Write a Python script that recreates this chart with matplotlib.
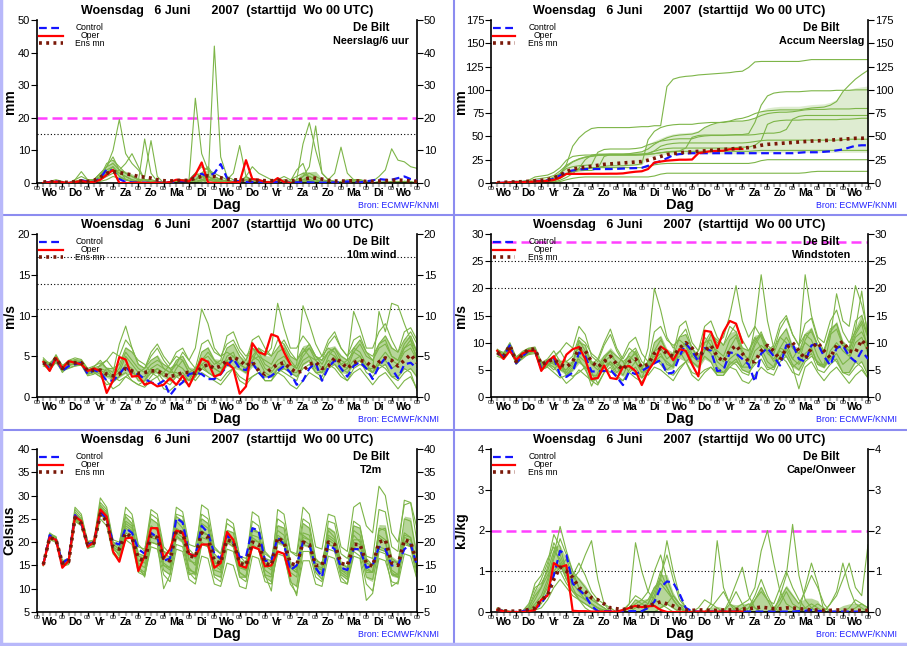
import numpy as np
import matplotlib
matplotlib.use("Agg")
import matplotlib.pyplot as plt
from matplotlib.transforms import blended_transform_factory

plt.rcParams['font.family'] = ['Liberation Sans', 'DejaVu Sans']


def rij(s):
    # string met waarden (| scheidt de dagen) -> array
    return np.array([float(v) for v in s.replace('|', ' ').split()])


# tijdstappen: elke 6 uur, van +6 tot +360 uur
uren = np.arange(6, 361, 6)
dagen = ['Wo', 'Do', 'Vr', 'Za', 'Zo', 'Ma', 'Di', 'Wo', 'Do', 'Vr', 'Za', 'Zo', 'Ma', 'Di', 'Wo']

# ---------------- Neerslag per 6 uur (mm) ----------------
neerslag_leden = [
    "0 0 0 0 | 0 0 0.5 0.5 | 1 3 5 10 | 19.5 9 6 4 | 1 0 0 0 | 0 0 0.5 0.5 | 0 1 0 42 | 8 2 1 0.5 | 1 0.5 0.5 0.5 | 0.5 0.5 1 0.5 | 4 6 0.5 0 | 0 0 0 0 | 0 1 1 0 | 0 0 0 0 | 0 0 0 0",
    "0 0.5 0.5 0 | 0 1 2 1 | 1 2 5 6 | 4 3 2 1 | 1 0.5 0.5 0 | 0 0.5 1 1 | 3 5 4 3 | 2 1 0.5 0.5 | 2 5 3 2 | 1 1 2 1 | 2 3 2 1 | 0.5 0.5 0 0 | 0 1 1 0.5 | 0.5 2 4 10.5 | 7 6.5 5 4.5",
    "0 0 0.5 0 | 0 0.5 1 0.5 | 1 3 4 5 | 2 1 0.5 0.5 | 13.5 3 0.5 0 | 0 0 0.5 1 | 3 2 2 1 | 1 0.5 0 0 | 2 1 0.5 0 | 0 0.5 0.5 0 | 1 12 18.5 10 | 3 1 0.5 0 | 0 0.5 0.5 0 | 0 0 0.5 0 | 0 0.5 0 0",
    "0 0 0 0 | 0 0 0.5 0.5 | 0.5 1 3 4 | 3 2 1 0.5 | 1 1 0.5 0 | 0 0.5 0.5 1 | 26 9 4 2 | 1 0.5 0 0 | 1 0.5 0.5 0 | 0 1 0.5 0 | 1 2 3 2 | 1 0.5 0 0.5 | 1 1 0.5 0 | 0 0.5 0 0 | 0 0.5 0 0",
    "0 0 0 0 | 0 0 0.5 0 | 0.5 2 3 4 | 2 1 0.5 0 | 2 13 2 0 | 0 0 0 0.5 | 1 2 2 1 | 0.5 0 0 0 | 0 0 0 0 | 0 0 0.5 0.5 | 0 2 5 17.5 | 3 1 0.5 0 | 0 0.5 0 0 | 0 0 0 0.5 | 0 0.5 0.5 0",
    "0 0.5 1 0.5 | 0 1 3.5 1 | 1 3 5 8 | 4 1 0.5 0 | 0 0 0 0 | 0 0 0 0 | 0.5 1 1 0.5 | 0.5 1 3 11.5 | 2 0.5 0 0 | 0 0 0 0 | 0 0.5 1 0.5 | 0 1 3 11 | 3 1 0 0 | 0 0 0 0 | 0 0 0 0",
    "0 0 0 0 | 0 0.5 1 0.5 | 0.5 2 6 7 | 5 3 2 1 | 1 0.5 0 0 | 0 0 0 0.5 | 1 3 5 2 | 1 0.5 0 0 | 0 0 0 0 | 0 0 0 0 | 0.5 1 1 0.5 | 0 0 0 0 | 0 0 0 0 | 0 0 0 0.5 | 0.5 0 0 0",
    "0 0 0 0 | 0 0 0 0 | 0 1 2 3 | 4 6 9 5 | 1 0 0 0 | 0 0 0 0 | 0 0.5 1 1 | 0.5 0 0 0 | 0 0 0 0 | 0 0 0 0 | 0 0.5 0.5 0 | 0 0 0 0 | 0 0 0 0 | 0 0 0 0 | 0 0 0 0",
    "0 0 0 0 | 0 0 0 0 | 0.5 1.5 3 5 | 3 2 1 0.5 | 0 0 0 0 | 0 0 0 0 | 1 2 1 0.5 | 0 0 0 0 | 0 0 0 0 | 0 0 0 0 | 0 1 2 1 | 0 0 0 0 | 0 0 0 0 | 0 0 0 0 | 0 0 0 0",
    "0 0 0 0 | 0 0 0 0 | 0 0.5 1 2 | 1.5 1 0.5 0 | 0 0 0 0 | 0 0 0 0 | 0 1 2 1 | 0 0 0 0 | 0 0 0 0 | 0 0 0 0 | 0 0 0 0 | 0 0 0 0 | 0 0.5 1 0.5 | 0 0 0 0 | 0 0 0 0",
]
neerslag_control = "0 0.3 0.5 0.2 | 0 0.2 0.8 0.5 | 0.3 1.5 4.2 3.8 | 1.2 0.3 0.2 0.1 | 0.1 0 0.1 0.1 | 0.2 0.5 0.6 0.5 | 2.5 2.8 2.0 3.0 | 5.8 1.5 0.8 0.5 | 0.3 0.3 0.2 0.2 | 0.2 0.3 0.2 0.1 | 0.2 0.3 0.2 0.1 | 0.1 0.1 0.2 0.2 | 0.5 0.3 0.2 0.5 | 0.8 1.2 1.0 1.0 | 1.5 2.0 1.2 0.8"
neerslag_oper = "0 0.2 0.4 0.2 | 0 0.3 0.6 0.3 | 0.3 1.0 2.5 4.0 | 0 0 0 0.1 | 0 0 0.1 0 | 0.3 1.0 0.8 0.5 | 2.5 6.3 0.2 0 | 0 0 0.2 0.3 | 7.0 1.2 1.0 0.3 | 0.2 1.5 0.3 0"
neerslag_ensmn = "0.3 0.4 0.3 0.2 | 0.2 0.4 0.6 0.5 | 0.8 1.8 3.0 3.5 | 3.2 2.8 2.5 2.0 | 1.8 1.5 1.0 0.7 | 0.6 0.8 0.8 0.8 | 1.5 2.0 2.2 2.0 | 1.6 1.2 1.0 0.9 | 0.9 0.8 0.8 0.7 | 0.7 0.8 0.6 0.6 | 0.8 1.2 1.5 1.5 | 1.2 0.8 0.6 0.6 | 0.6 0.7 0.6 0.5 | 0.5 0.6 0.7 0.8 | 0.9 0.8 0.6 0.5"

# ---------------- Geaccumuleerde neerslag (mm) ----------------
accum_control = "0 0.3 0.8 1.0 | 1.0 1.2 2.0 2.5 | 2.8 4.5 8 12 | 13.5 14.5 15 15 | 15 15 15 15.2 | 15.5 15.8 16 16.3 | 18.5 21.5 23.5 26.5 | 30 31 31.5 32 | 32 32 32 32 | 32 32 32 32 | 32 32 32 32 | 32 32 32 32 | 32.5 33 33 33 | 33.5 34 35 36 | 38 40 40.5 40.5"
accum_oper = "0 0.2 0.6 0.8 | 0.8 1.1 1.7 2.0 | 2.3 3.3 5.8 9.8 | 9.8 9.8 9.8 9.9 | 9.9 9.9 10 10 | 10.3 11.3 12.1 12.6 | 15 22 23 24 | 24.5 25 25 25.2 | 32 33.2 34.2 34.5 | 34.7 36.2 36.5 36.5"
accum_ensmn = "0.3 0.7 1.0 1.2 | 1.4 1.8 2.4 2.9 | 3.7 5.5 8.5 12 | 15 16 17 18 | 19 20 20.5 21 | 21.5 22 22.5 23 | 24.5 26.5 28.5 30.5 | 31.5 32.5 33 33.5 | 34 34.5 35 35.5 | 36 36.5 37 37.5 | 38 39 40.5 41.5 | 42 42.5 43 43.5 | 44 44.5 45 45.3 | 45.5 46 46.5 47 | 47.5 48 48 48.5"

# ---------------- 10m wind (m/s) ----------------
wind_leden = [
    "4.5 3.8 5.2 3.8 | 4.5 4.8 4.6 3.5 | 3.8 4.2 3.5 3.0 | 6.5 8.7 6.0 4.0 | 3.5 4.5 5.0 3.5 | 3.0 4.0 5.5 4.5 | 6.0 10.8 9.0 6.0 | 5.0 6.5 7.0 5.5 | 4.5 6.0 5.5 4.0 | 3.5 4.5 5.0 4.0 | 3.5 5.5 6.5 5.0 | 4.0 5.5 6.0 4.5 | 4.0 6.0 7.0 5.5 | 5.0 6.5 7.5 6.0 | 5.5 8.0 8.5 7.0",
    "4.0 3.2 4.5 3.0 | 3.8 4.2 4.0 2.8 | 3.0 2.5 1.5 1.8 | 2.5 3.0 2.0 1.5 | 1.2 2.0 2.5 1.0 | 0.8 1.5 2.5 2.0 | 2.5 3.5 3.0 2.5 | 3.0 4.5 5.0 4.0 | 3.5 5.0 6.0 5.0 | 6.0 11.5 8.5 6.0 | 6.0 7.5 6.5 5.0 | 4.5 5.5 5.0 3.5 | 3.0 4.0 4.5 3.0 | 2.5 3.5 4.0 2.5 | 2.0 3.0 3.5 2.5",
    "4.8 4.0 5.0 3.5 | 4.0 4.0 4.2 3.2 | 3.5 3.0 2.5 2.5 | 3.0 5.0 4.0 3.0 | 3.5 5.5 6.5 5.0 | 4.0 5.0 4.5 3.0 | 3.5 4.5 5.0 4.0 | 4.5 7.5 8.0 6.0 | 5.0 6.0 5.0 3.5 | 3.0 4.0 4.5 3.0 | 4.0 11.2 9.0 6.5 | 5.0 6.0 5.5 4.0 | 3.5 4.5 5.0 3.5 | 3.0 4.0 4.5 3.5 | 4.0 5.5 6.0 4.5",
    "3.8 3.5 4.8 3.2 | 3.5 3.8 4.0 2.8 | 3.0 3.5 3.2 2.0 | 2.5 4.0 3.5 2.0 | 2.0 3.5 3.0 2.0 | 1.5 2.5 3.0 2.0 | 2.5 4.0 4.5 3.5 | 3.0 5.0 5.5 3.5 | 3.0 4.0 3.5 2.0 | 2.0 3.5 3.0 2.5 | 2.0 4.0 4.5 3.0 | 2.5 4.0 5.0 4.0 | 4.5 10.5 8.5 6.0 | 6.0 8.0 9.0 7.0 | 5.5 7.0 8.0 6.5",
    "4.2 3.6 4.6 3.4 | 4.2 4.5 4.3 3.0 | 3.2 2.8 2.0 1.0 | 1.5 2.5 2.0 1.5 | 2.0 3.0 3.5 2.5 | 3.0 4.5 5.0 3.5 | 3.0 5.5 6.0 4.5 | 4.0 6.0 6.5 5.0 | 4.0 5.0 4.5 3.0 | 2.5 3.5 4.0 3.0 | 2.5 3.5 4.0 3.0 | 3.0 5.0 6.0 5.0 | 4.5 5.5 5.0 3.5 | 3.5 10.5 8.0 11.5 | 11.2 9.0 7.0 5.5",
    "4.5 4.2 4.8 3.8 | 4.4 4.6 4.5 3.4 | 3.0 2.5 3.5 3.5 | 4.0 6.0 5.5 4.5 | 4.0 3.0 2.5 3.0 | 4.0 5.5 6.0 4.5 | 3.5 4.0 3.0 2.5 | 2.0 3.0 3.5 2.5 | 2.0 2.5 3.0 2.5 | 2.5 3.0 2.5 1.5 | 1.0 2.0 3.0 2.5 | 2.0 3.5 4.0 3.0 | 2.0 3.0 3.5 2.5 | 1.5 2.5 3.0 2.0 | 1.0 2.0 2.5 1.0",
    "4.0 3.4 4.2 3.2 | 3.6 3.8 3.9 2.6 | 2.8 4.0 4.5 3.5 | 3.0 3.5 3.0 2.5 | 1.5 2.5 3.5 3.0 | 2.0 3.5 4.5 3.0 | 2.0 3.0 2.5 2.0 | 1.5 2.5 3.5 4.0 | 4.5 7.0 7.5 6.0 | 5.0 7.0 6.5 5.0 | 4.5 6.0 5.0 3.5 | 3.0 4.0 3.5 2.5 | 2.0 3.5 4.0 3.5 | 3.0 4.5 5.5 4.5 | 4.0 6.0 6.5 5.0",
    "4.4 3.9 5.0 3.6 | 4.1 4.3 4.1 3.1 | 3.4 3.3 2.8 2.6 | 3.5 5.5 4.5 3.5 | 3.0 4.0 4.5 4.0 | 3.5 2.5 2.0 1.5 | 2.5 4.5 5.5 4.5 | 3.5 4.0 4.5 3.5 | 3.0 4.5 5.0 4.5 | 4.0 5.5 6.0 4.5 | 3.5 5.0 6.0 4.5 | 3.5 4.5 4.0 3.0 | 3.5 5.5 6.5 5.0 | 4.5 6.5 7.0 5.0 | 4.5 6.5 7.5 5.5",
    "4.1 3.3 4.4 3.3 | 3.9 4.1 4.2 2.9 | 3.6 3.8 4.5 5.5 | 5.0 7.0 6.0 4.0 | 3.5 5.0 6.0 4.5 | 3.5 4.0 3.5 2.5 | 3.0 3.5 4.0 3.5 | 3.0 4.5 3.5 2.0 | 1.5 2.5 3.0 2.0 | 2.0 3.0 3.5 3.0 | 3.0 4.5 5.0 4.5 | 5.0 7.0 8.0 6.0 | 5.0 6.0 5.5 4.0 | 3.0 4.0 3.5 2.5 | 2.5 3.5 3.0 0.8",
    "4.6 3.7 4.9 3.9 | 4.3 4.4 4.4 3.3 | 3.7 4.5 3.5 2.5 | 2.0 2.5 3.0 2.5 | 2.5 3.5 4.0 3.5 | 3.0 3.0 2.5 2.0 | 3.5 6.5 7.0 5.5 | 5.0 5.5 5.0 4.0 | 3.5 4.5 6.0 5.5 | 5.0 6.0 7.0 5.5 | 4.5 5.5 6.0 5.0 | 4.5 6.5 7.5 6.0 | 5.0 7.0 7.5 5.5 | 4.5 6.0 6.5 5.0 | 4.5 6.0 7.0 4.5",
]
wind_control = "4.2 3.5 4.8 3.2 | 3.8 4.0 4.2 2.8 | 3.3 3.0 2.0 2.0 | 2.8 3.8 2.8 2.8 | 2.2 1.8 1.5 2.0 | 0.2 1.2 1.8 2.8 | 3.0 2.8 2.2 2.2 | 2.8 3.8 4.7 3.5 | 3.3 4.2 3.0 2.2 | 2.6 3.2 3.8 3.0 | 1.5 2.0 3.5 4.2 | 2.0 3.6 4.5 3.5 | 2.5 3.8 4.3 3.5 | 2.2 3.8 4.8 3.5 | 2.3 4.0 4.2 3.5"
wind_oper = "4.3 3.2 4.8 3.5 | 4.4 4.2 4.0 3.2 | 3.5 3.2 0.5 2.0 | 4.9 4.6 2.5 2.6 | 1.5 1.8 1.3 1.5 | 2.3 1.5 2.6 1.3 | 3.0 4.7 4.3 2.5 | 2.8 4.2 3.5 0.4 | 1.3 6.6 5.5 5.2 | 7.7 7.4 5.5 4.0"
wind_ensmn = "4.2 3.8 4.8 3.5 | 4.2 4.2 4.2 3.2 | 3.3 3.3 2.8 2.6 | 2.8 3.5 3.2 2.9 | 3.0 3.2 3.2 2.8 | 2.5 2.7 3.0 3.0 | 2.9 3.6 4.0 3.5 | 3.8 4.5 4.9 4.5 | 3.8 4.3 3.2 2.8 | 3.5 4.0 4.2 3.5 | 3.0 3.2 4.0 4.3 | 3.5 3.8 4.8 4.3 | 3.5 4.2 4.5 4.3 | 3.6 4.3 4.8 4.5 | 3.8 4.5 5.2 4.2"

# ---------------- Windstoten (m/s) ----------------
stoten_leden = [
    "8.5 7.8 9.8 6.8 | 7.8 8.8 9.0 5.5 | 6.5 7.5 5.0 4.5 | 6.0 10.0 9.5 6.0 | 5.0 7.0 8.5 6.0 | 5.5 7.0 8.0 5.0 | 9.0 20.0 16.0 11.0 | 9.0 11.0 12.5 9.0 | 7.0 10.0 10.5 7.5 | 6.5 9.0 11.0 8.0 | 7.0 10.0 12.0 9.0 | 8.0 11.0 12.5 9.0 | 8.0 11.5 12.0 9.5 | 8.5 12.0 13.5 10.0 | 9.0 14.0 15.0 11.0",
    "7.8 7.2 9.0 6.0 | 7.2 8.2 8.4 5.0 | 5.5 4.5 3.5 4.0 | 5.5 7.0 5.0 3.0 | 2.2 4.5 5.5 3.5 | 3.0 5.0 6.5 4.5 | 5.0 7.0 6.5 5.0 | 6.0 9.0 10.0 8.0 | 7.0 10.0 12.0 10.0 | 11.0 15.0 20.5 14.0 | 11.0 13.0 11.0 8.0 | 7.0 9.0 8.5 6.0 | 5.0 7.0 8.0 5.0 | 4.5 6.0 7.0 4.5 | 4.0 5.5 6.5 4.0",
    "8.8 8.0 10.0 7.0 | 8.0 8.6 8.8 6.2 | 6.8 6.0 5.5 5.0 | 6.5 9.5 8.0 6.0 | 7.0 10.0 12.5 9.0 | 7.0 9.0 8.0 5.5 | 6.5 8.5 9.0 7.0 | 8.0 13.0 14.0 10.0 | 8.5 11.0 9.5 6.5 | 5.5 7.0 8.0 5.5 | 7.0 13.0 22.5 14.0 | 9.0 11.0 10.0 7.0 | 6.0 8.0 9.0 6.0 | 5.5 7.0 8.0 6.0 | 7.0 10.0 11.0 8.0",
    "7.5 7.0 9.2 6.2 | 7.0 8.0 8.2 5.2 | 5.8 6.5 6.0 4.0 | 5.0 7.5 6.5 4.0 | 4.0 6.5 6.0 4.0 | 3.0 4.5 5.5 3.5 | 4.5 7.0 8.0 6.0 | 5.5 9.0 9.5 6.5 | 5.5 7.5 6.5 4.0 | 4.0 6.5 6.0 4.5 | 4.0 7.0 8.0 5.5 | 5.0 7.5 9.0 7.0 | 9.0 22.5 15.0 11.0 | 10.0 14.0 16.0 12.0 | 10.0 12.0 14.0 11.0",
    "8.2 7.5 9.6 6.6 | 7.6 8.6 8.6 5.8 | 6.2 5.5 4.0 2.5 | 3.5 5.0 4.0 3.0 | 3.5 5.5 6.5 4.5 | 5.5 8.0 9.0 6.5 | 5.5 10.0 11.0 8.0 | 7.5 11.0 11.5 9.0 | 7.5 9.0 8.0 5.5 | 4.5 6.0 7.0 5.0 | 4.5 6.0 7.0 5.0 | 5.5 9.0 11.0 9.0 | 8.0 10.0 9.0 6.0 | 6.0 11.0 19.0 14.0 | 13.0 20.5 17.0 12.0",
    "8.6 8.2 9.4 7.2 | 8.4 9.0 9.2 6.5 | 6.0 5.0 6.5 6.5 | 7.5 11.0 10.0 8.0 | 7.0 5.5 4.5 5.5 | 7.5 10.0 11.0 8.0 | 6.5 7.5 6.0 4.5 | 4.0 5.5 6.5 4.5 | 4.0 5.0 5.5 4.5 | 4.5 5.5 5.0 3.0 | 2.5 4.0 5.5 4.5 | 4.0 6.5 7.5 5.5 | 1.5 5.5 6.5 4.5 | 3.0 4.5 5.5 4.0 | 2.5 4.0 5.0 3.5",
    "7.9 7.4 8.5 6.4 | 7.3 7.8 8.0 5.0 | 5.6 7.5 8.5 6.5 | 5.5 6.5 5.5 4.5 | 2.5 4.5 6.5 5.5 | 4.0 6.5 8.5 5.5 | 4.0 5.5 5.0 4.0 | 3.0 5.0 6.5 7.5 | 8.5 13.0 14.0 11.0 | 9.5 13.0 12.0 9.0 | 8.5 11.0 9.0 6.5 | 5.5 7.5 6.5 4.5 | 4.0 6.5 7.5 6.5 | 5.5 8.5 10.0 8.5 | 7.5 11.0 12.0 9.5",
    "8.4 7.8 9.7 6.9 | 7.9 8.5 8.4 6.0 | 6.6 6.3 5.2 5.0 | 6.5 10.5 8.5 6.5 | 5.5 7.5 8.5 7.5 | 6.5 4.5 3.5 2.8 | 4.5 8.5 10.5 8.5 | 6.5 7.5 8.5 6.5 | 5.5 8.5 9.5 8.5 | 7.5 10.5 11.5 8.5 | 6.5 9.5 11.5 8.5 | 6.5 8.5 7.5 5.5 | 6.5 10.5 12.5 9.5 | 8.5 12.5 13.5 9.5 | 8.5 12.5 19.5 10.5",
    "8.0 7.0 8.8 6.5 | 7.5 8.0 8.5 5.5 | 6.8 7.2 8.5 10.0 | 9.0 13.0 11.5 7.5 | 6.5 9.5 11.5 8.5 | 6.5 7.5 6.5 4.5 | 5.5 6.5 7.5 6.5 | 5.5 8.5 6.5 4.0 | 3.0 4.5 5.5 4.0 | 4.0 5.5 6.5 5.5 | 5.5 8.5 9.5 8.5 | 9.5 13.5 15.0 11.5 | 9.5 11.5 10.5 7.5 | 5.5 7.5 6.5 4.5 | 4.5 6.5 5.5 3.5",
    "8.7 7.6 9.9 7.4 | 8.2 8.9 8.9 6.3 | 7.0 8.5 6.5 4.5 | 3.8 4.5 5.5 2.0 | 4.5 6.5 7.5 6.5 | 5.5 5.5 4.5 3.5 | 6.5 12.0 13.0 10.5 | 9.5 10.5 9.5 7.5 | 6.5 8.5 11.5 10.5 | 9.5 11.5 13.5 10.5 | 8.5 10.5 11.5 9.5 | 8.5 12.5 14.5 11.5 | 9.5 13.5 14.5 10.5 | 8.5 11.5 12.5 9.5 | 8.5 11.5 13.5 8.5",
]
stoten_control = "8.0 7.5 9.5 6.2 | 7.5 8.5 8.5 5.2 | 6.5 7.2 4.0 3.7 | 4.5 8.2 7.5 4.7 | 4.7 4.8 5.0 3.7 | 2.2 4.7 4.2 4.8 | 5.5 6.2 6.8 4.3 | 4.5 7.5 9.8 8.5 | 6.5 9.0 8.5 4.8 | 4.9 8.2 8.0 7.0 | 6.0 2.8 8.0 9.0 | 7.5 5.8 9.5 9.8 | 7.0 6.5 9.5 9.8 | 7.5 5.8 9.0 9.5 | 7.5 6.5 8.5 7.0"
stoten_oper = "8.5 7.0 8.5 6.8 | 8.0 8.5 8.5 4.8 | 6.5 7.5 5.2 7.8 | 8.8 9.2 7.0 3.3 | 3.5 5.8 3.5 3.3 | 5.5 5.7 4.8 2.2 | 4.8 6.5 9.3 8.5 | 6.8 8.8 8.5 6.0 | 3.8 12.2 12.0 9.0 | 12.0 14.0 13.5 10.0"
stoten_ensmn = "8.2 7.5 9.5 6.5 | 7.8 8.8 8.8 6.0 | 6.5 7.0 6.0 5.5 | 6.5 9.0 8.5 6.5 | 5.5 6.5 7.5 6.0 | 5.0 6.5 7.0 5.5 | 6.0 8.0 9.0 8.0 | 7.5 9.0 10.0 9.0 | 7.5 8.5 9.5 7.5 | 6.5 8.5 9.5 8.0 | 6.5 6.5 8.5 9.5 | 8.5 6.8 9.0 10.0 | 8.5 7.0 9.0 10.0 | 8.5 7.2 9.5 10.2 | 8.5 8.2 10.5 9.0"

# ---------------- T2m (Celsius) ----------------
t2m_leden = [
    "15.5 22.0 21.0 16.0 | 16.5 27.5 26.0 20.0 | 20.5 29.5 27.5 20.5 | 20.0 26.0 25.0 19.0 | 18.5 25.0 24.0 18.0 | 17.5 27.5 26.5 19.5 | 19.0 26.0 25.0 18.5 | 17.5 24.0 23.0 17.0 | 16.5 23.0 22.0 16.5 | 16.0 25.0 24.0 18.0 | 17.5 27.5 26.0 19.0 | 18.5 26.0 25.5 19.0 | 18.0 27.5 28.5 23.5 | 22.0 32.0 30.0 22.0 | 20.0 28.0 28.5 23.0",
    "15.0 20.5 20.0 14.8 | 15.2 24.5 23.5 18.8 | 19.0 25.0 23.5 17.5 | 16.0 20.5 19.5 13.5 | 12.8 19.0 18.5 13.0 | 11.5 18.5 18.0 12.0 | 11.0 17.0 16.5 11.0 | 10.5 15.5 15.0 10.5 | 10.0 17.0 16.5 11.5 | 11.0 18.0 17.5 11.0 | 9.0 16.0 16.0 11.0 | 10.5 17.0 16.5 11.5 | 11.0 18.0 17.0 11.0 | 9.5 16.5 16.0 11.5 | 11.0 17.5 17.0 12.0",
    "15.3 21.5 20.8 15.8 | 16.0 26.0 24.8 19.5 | 20.0 27.5 26.0 19.5 | 18.5 24.0 23.0 17.0 | 16.5 23.5 22.5 16.5 | 15.5 24.5 23.0 16.5 | 15.0 24.0 23.0 16.0 | 14.5 21.0 20.5 15.0 | 14.0 22.5 22.0 15.5 | 14.5 21.5 20.5 14.5 | 13.5 22.0 21.5 15.0 | 14.0 21.5 20.5 14.0 | 13.0 20.5 20.5 14.5 | 13.5 22.5 23.0 16.5 | 15.5 22.0 21.0 14.5",
    "15.1 20.8 20.2 15.2 | 15.5 25.0 23.8 19.2 | 19.5 26.0 24.8 18.5 | 17.5 22.0 21.0 14.5 | 13.5 20.0 19.5 14.0 | 13.0 21.0 20.5 13.5 | 12.0 19.5 19.0 12.5 | 11.5 18.5 18.0 12.5 | 12.5 20.5 20.0 14.0 | 13.0 23.5 23.0 15.5 | 14.5 24.0 23.0 16.0 | 15.5 22.5 21.0 14.5 | 14.0 19.0 18.0 12.5 | 12.0 18.5 18.0 13.0 | 12.5 19.5 19.0 13.5",
    "15.4 21.8 21.2 15.5 | 16.2 26.5 25.0 20.0 | 20.0 28.5 27.0 20.0 | 19.0 25.5 24.0 17.5 | 17.0 26.0 25.0 18.0 | 16.5 25.5 24.5 17.5 | 16.5 25.0 24.0 17.5 | 16.0 25.0 24.0 17.0 | 15.5 24.5 23.5 17.5 | 16.5 22.5 21.5 15.0 | 14.0 21.5 20.5 14.5 | 14.0 20.5 19.5 13.0 | 12.0 20.0 19.5 13.5 | 13.5 23.0 22.5 16.0 | 15.5 25.0 24.5 17.0",
    "14.9 21.2 20.5 15.0 | 15.8 25.5 24.2 19.0 | 19.8 27.0 25.5 19.0 | 17.0 23.0 22.0 15.5 | 14.5 21.0 20.5 15.0 | 14.5 23.0 22.0 16.0 | 15.5 22.5 21.5 15.0 | 14.0 20.5 20.0 14.5 | 14.0 19.5 18.5 12.5 | 11.5 17.5 17.0 11.5 | 10.5 19.5 19.0 14.0 | 13.5 24.5 24.0 17.5 | 16.5 21.5 20.0 14.0 | 13.5 19.0 18.5 13.0 | 13.0 21.0 20.5 14.5",
    "15.2 21.0 20.6 15.6 | 15.6 25.2 24.0 19.6 | 20.2 26.5 25.0 19.0 | 18.0 24.5 23.5 16.0 | 15.5 22.0 21.0 15.5 | 14.5 21.5 20.0 14.0 | 13.5 21.0 20.5 14.0 | 13.5 22.5 22.0 16.0 | 15.5 26.5 25.5 18.0 | 16.5 21.0 20.0 14.5 | 13.5 20.5 19.5 13.5 | 12.0 19.5 19.0 14.0 | 13.5 22.5 21.5 15.5 | 15.0 21.0 20.0 13.5 | 12.5 20.0 19.5 13.5",
    "15.0 21.4 20.4 15.4 | 15.9 26.0 24.6 19.4 | 19.6 27.5 26.0 19.5 | 18.5 23.5 22.5 15.0 | 12.5 20.0 19.5 10.0 | 13.0 19.5 19.0 13.0 | 13.5 22.0 21.5 15.5 | 15.0 20.0 19.0 12.5 | 11.5 19.0 18.5 13.0 | 12.5 20.0 19.5 13.5 | 12.5 21.0 20.5 15.0 | 14.5 23.0 22.0 15.5 | 14.5 24.5 23.5 16.5 | 15.0 21.5 20.5 14.0 | 13.0 21.5 21.0 15.0",
    "15.3 21.6 21.0 15.9 | 16.3 27.0 25.5 20.2 | 20.4 28.0 26.5 20.0 | 19.5 27.5 26.0 19.5 | 18.0 27.0 26.0 19.0 | 17.5 26.0 25.5 18.5 | 17.0 28.0 27.0 19.0 | 17.5 21.5 20.0 13.5 | 12.5 21.5 21.0 15.0 | 14.0 27.0 26.0 18.0 | 17.0 25.0 24.0 16.5 | 15.0 21.0 20.0 13.5 | 12.5 23.5 23.0 17.0 | 16.5 27.0 26.5 19.0 | 18.0 29.0 28.5 20.0",
    "15.2 21.2 20.3 15.3 | 15.4 24.8 23.6 18.6 | 19.2 26.0 24.5 18.0 | 16.5 21.5 20.5 14.0 | 13.0 21.5 21.0 15.0 | 14.0 22.0 21.0 14.5 | 13.0 20.0 19.0 13.0 | 12.5 20.5 19.5 13.5 | 12.5 21.0 20.0 13.0 | 9.5 20.0 19.5 12.0 | 8.5 18.0 18.0 12.5 | 11.5 18.5 18.0 12.5 | 11.0 17.0 16.5 7.5 | 9.0 18.0 17.5 10.5 | 11.5 20.0 19.0 12.0",
]
t2m_control = "15.2 21.5 20.5 15.5 | 16.5 25.8 24.0 19.5 | 20.0 26.5 25.0 20.0 | 19.5 23.0 22.0 18.5 | 17.5 22.0 21.0 16.0 | 16.5 25.2 24.2 17.5 | 17.0 23.5 22.0 17.5 | 16.5 21.5 20.0 16.8 | 16.8 23.0 22.5 16.0 | 16.0 21.0 19.5 14.0 | 15.0 20.0 19.5 14.5 | 12.5 19.5 18.5 14.5 | 14.0 18.5 18.5 14.5 | 15.0 19.0 18.5 15.0 | 15.0 18.5 19.5 15.0"
t2m_oper = "15.2 21.0 20.5 14.5 | 16.0 25.5 24.5 19.0 | 20.0 27.0 25.5 18.0 | 15.8 20.8 21.0 13.8 | 17.0 23.0 23.0 16.5 | 18.5 22.5 22.0 17.5 | 17.0 19.5 19.5 14.5 | 15.5 22.2 20.5 15.0 | 14.5 19.0 18.5 14.8 | 15.0 18.0 17.5 12.8"
t2m_ensmn = "15.2 21.0 20.5 15.5 | 15.8 25.2 24.0 19.5 | 19.8 26.0 24.5 19.0 | 18.5 22.0 21.0 16.5 | 16.0 21.5 21.0 16.5 | 16.0 22.5 22.0 17.0 | 16.8 22.0 21.0 16.0 | 15.5 20.5 20.0 15.5 | 15.0 20.0 19.5 15.5 | 15.0 21.0 20.0 15.5 | 15.0 20.0 19.5 15.0 | 15.0 20.0 19.5 15.5 | 15.0 19.5 19.5 15.5 | 14.8 20.0 20.5 15.5 | 15.0 20.5 20.0 15.5"

# ---------------- Cape (kJ/kg) ----------------
cape_leden = [
    "0.05 0.02 0 0 | 0 0.1 0.5 0.8 | 1.2 1.9 1.6 1.0 | 0.6 0.3 0.2 0.1 | 0.05 0 0 0 | 0 0.1 0.3 0.2 | 0.1 0.4 0.9 1.4 | 0.8 0.3 0.1 0 | 0 0 0.1 0.3 | 0.5 0.2 0.1 0 | 0.1 0.4 0.8 0.4 | 0.1 0 0 0 | 0 0.1 0.2 0.1 | 0 0 0 0 | 0 0.1 0.2 0.1",
    "0.08 0.03 0.01 0 | 0 0.05 0.2 0.4 | 0.8 1.4 2.1 1.5 | 1.0 0.6 0.4 0.3 | 0.2 0.1 0 0 | 0 0 0 0 | 0.1 0.3 0.8 1.75 | 1.0 0.4 0.1 0 | 0 0 0 0 | 0 0 0.1 0.2 | 0.3 0.6 1.5 2.0 | 1.2 0.5 0.2 0.1 | 0 0 0 0 | 0 0 0 0 | 0 0 0 0",
    "0.06 0.02 0 0 | 0.02 0.2 0.6 0.7 | 1.0 1.5 1.3 0.9 | 0.8 1.0 1.4 1.75 | 0.8 0.2 0 0 | 0 0.2 1.7 1.0 | 0.5 0.3 0.2 0.1 | 0 0 0 0 | 0 0 0 0 | 0 0 0 0.1 | 0.2 0.1 0 0 | 0 0.2 0.5 0.2 | 0.1 0 0 0 | 0 0 0 0 | 0.1 0.3 0.2 0.1",
    "0.1 0.04 0.02 0 | 0 0 0.1 0.2 | 0.5 1.0 1.2 0.8 | 0.5 0.3 0.1 0 | 0 0 0 0 | 0 0 0 0 | 0.2 0.6 0.7 0.5 | 0.3 0.1 0 0 | 0 0 0.2 1.75 | 0.6 0.2 0 0 | 0 0 0 0 | 0 0.4 0.9 2.15 | 0.9 0.3 0.1 0 | 0 0 0 0 | 0 0 0 0",
    "0.07 0.02 0 0 | 0 0.1 0.4 0.6 | 0.9 1.2 1.0 0.7 | 0.5 0.4 0.3 0.2 | 0.1 0 0 0 | 0 0 0 0 | 0 0 0.1 0.2 | 0.4 0.2 0 0 | 0 0 0 0 | 0 0.3 0.7 1.1 | 0.4 0.1 0 0 | 0 0 0 0 | 0 0.6 1.2 0.7 | 0 0.2 0.5 1.2 | 0.6 0.2 0.1 0",
    "0.06 0.01 0 0 | 0 0.05 0.3 0.6 | 1.1 1.7 1.4 1.0 | 0.7 0.5 0.3 0.2 | 0.1 0.05 0 0 | 0.05 0.2 0.4 0.3 | 0.2 0.5 1.0 0.6 | 0.3 0.1 0 0 | 0 0 0 0 | 0 0 0 0 | 0 0 0 0 | 0 0 0 0 | 0 0 0 0 | 0 0.2 0.4 0.8 | 1.2 0.6 0.4 1.65",
    "0.05 0.02 0 0 | 0 0 0.05 0.1 | 0.3 0.6 0.8 0.6 | 0.4 0.3 0.2 0.1 | 0 0 0 0 | 0 0 0 0 | 0 0 0 0 | 0 0 0 0 | 0 0 0 0 | 0 0 0 0 | 0 0.3 0.6 0.3 | 0 0 0 0 | 0 0 0 0 | 0 0 0 0 | 0 0 0 0",
    "0.06 0.02 0 0 | 0 0.15 0.7 0.9 | 1.3 1.6 1.2 0.8 | 0.9 1.2 0.9 0.5 | 0.3 0.2 0.1 0 | 0 0.1 0.2 0.3 | 0.5 1.0 1.4 0.8 | 0.4 0.2 0.1 0 | 0.1 0.3 0.2 0.1 | 0 0 0 0 | 0 0 0 0 | 0.1 0.3 0.6 0.4 | 0.2 0.5 0.9 0.6 | 0.2 0 0 0 | 0 0 0 0",
    "0.09 0.03 0.01 0 | 0 0.05 0.15 0.3 | 0.6 0.9 1.1 1.3 | 0.9 0.6 0.4 0.2 | 0.1 0 0 0 | 0 0 0.1 0.2 | 0.3 0.6 0.8 0.6 | 0.3 0.1 0 0 | 0 0 0 0 | 0 0 0 0 | 0.1 0.3 0.5 0.3 | 0.2 0.6 1.0 0.6 | 0.3 0.1 0 0 | 0 0 0 0 | 0 0 0 0",
    "0.07 0.02 0 0 | 0 0.02 0.1 0.3 | 0.7 1.3 1.8 1.4 | 1.0 0.8 0.6 0.4 | 0.2 0.1 0 0 | 0 0 0 0 | 0 0 0.1 0.2 | 0.1 0 0 0 | 0 0 0 0 | 0 0.2 0.5 0.2 | 0 0 0 0 | 0 0 0 0 | 0 0 0.1 0.2 | 0.1 0 0 0 | 0 0 0 0",
]
cape_control = "0.06 0.02 0 0 | 0.02 0.05 0.08 0.2 | 0.45 0.9 1.5 1.4 | 0.7 0.55 0.4 0.15 | 0.02 0.02 0.02 0.02 | 0.02 0.02 0.02 0.02 | 0.1 0.25 0.6 0.75 | 0.72 0.45 0.1 0.02 | 0.01 0.01 0.01 0.01 | 0.01 0.01 0.01 0.01 | 0.01 0.01 0.01 0.01 | 0.01 0.01 0.01 0.01 | 0.02 0.03 0.05 0.03 | 0.01 0.01 0.01 0.01 | 0.01 0.01 0.01 0.01"
cape_oper = "0.05 0.02 0 0 | 0 0.02 0.05 0.3 | 0.4 1.2 1.1 1.15 | 0.03 0.02 0.02 0.01 | 0.01 0.01 0.01 0.01 | 0.05 0.1 0.15 0.12 | 0.14 0.15 0.05 0 | 0 0 0 0 | 0.01 0.01 0.01 0.01 | 0.01 0.01 0.01 0.01"
cape_ensmn = "0.08 0.03 0.02 0.02 | 0.03 0.06 0.1 0.3 | 0.4 0.8 1.1 1.0 | 0.85 0.6 0.5 0.35 | 0.3 0.2 0.1 0.08 | 0.06 0.1 0.15 0.12 | 0.15 0.2 0.25 0.2 | 0.15 0.08 0.05 0.04 | 0.05 0.05 0.04 0.04 | 0.05 0.05 0.06 0.07 | 0.08 0.1 0.12 0.1 | 0.08 0.08 0.1 0.1 | 0.08 0.07 0.05 0.05 | 0.04 0.04 0.05 0.05 | 0.04 0.04 0.04 0.04"

# kleuren
GROEN = '#7db548'
BLAUW = '#1414ff'
ROOD = '#ff0000'
BRUIN = '#7a1808'
MAGENTA = '#ff40ff'
RAND = '#8c8cf0'

TITEL = "Woensdag   6 Juni      2007  (starttijd  Wo 00 UTC)"


def paneel(ax, leden, control, oper, ensmn, ymin, ymax, ystap, ylabel, naam, lijnen,
           links, kern_alpha):
    # dichte kern van de pluim (50 leden in het origineel)
    leden = np.array(leden)
    onder, boven = np.percentile(leden, [20, 80], axis=0)
    ax.fill_between(uren, onder, boven, color=GROEN, alpha=kern_alpha, lw=0, zorder=2)
    for lid in leden:
        ax.plot(uren, lid, color=GROEN, lw=0.8, zorder=2)
    for waarde, stijl in lijnen:
        if stijl == 'magenta':
            ax.axhline(waarde, color=MAGENTA, lw=1.8, ls=(0, (4, 2)), zorder=1)
        else:
            ax.axhline(waarde, color='black', lw=0.8, ls=(0, (1, 2)), zorder=1)
    ax.plot(uren[:len(control)], control, color=BLAUW, lw=1.6, ls=(0, (3.5, 2)), zorder=4)
    ax.plot(uren[:len(oper)], oper, color=ROOD, lw=1.6, zorder=5)
    ax.plot(uren[:len(ensmn)], ensmn, color=BRUIN, lw=2.6, ls=(0, (0.8, 1.2)), zorder=6)

    ax.set_xlim(0, 360)
    ax.set_ylim(ymin, ymax)
    ax.set_yticks(np.arange(ymin, ymax + ystap / 2, ystap))
    ax.set_xticks(np.arange(0, 361, 24))
    ax.set_xticks(np.arange(0, 361, 6), minor=True)
    ax.tick_params(axis='x', which='major', length=3, width=1, direction='out',
                   labelbottom=False, color='black')
    ax.tick_params(axis='x', which='minor', length=3, width=1.6, direction='out', color='#b4b4b4')
    ax.tick_params(axis='y', which='major', length=4.3, width=0.8, direction='out',
                   left=True, right=True, labelleft=True, labelright=True, labelsize=8, pad=0.6)
    ax.spines['top'].set_visible(False)
    for kant in ['left', 'right', 'bottom']:
        ax.spines[kant].set_linewidth(1.2)

    trans = blended_transform_factory(ax.transData, ax.transAxes)
    for d in range(16):
        ax.text(d * 24, -0.032, '00', transform=trans, fontsize=4.5, ha='center', va='center')
    for d, dag in enumerate(dagen):
        ax.text(d * 24 + 12, -0.062, dag, transform=trans, fontsize=7.6, fontweight='bold',
                ha='center', va='center')

    ax.text(0.5, 1.055, TITEL, transform=ax.transAxes, fontsize=9, fontweight='bold',
            ha='center', va='center')
    ax.text(0.5, -0.132, 'Dag', transform=ax.transAxes, fontsize=10.5, fontweight='bold',
            ha='center', va='center')
    bron_x = 1.058 if links else 1.077
    ax.text(bron_x, -0.137, 'Bron: ECMWF/KNMI', transform=ax.transAxes, fontsize=6.3,
            color='#2020ff', ha='right', va='center')
    ylab_x = -0.072 if links else -0.08
    ax.text(ylab_x, 0.5, ylabel, transform=ax.transAxes, fontsize=10, fontweight='bold',
            rotation=90, ha='center', va='center')

    # legenda linksboven
    xe = 0.068 if links else 0.064
    xt = 0.139 if links else 0.138
    for yy, tekst, kleur, stijl, dikte in [
            (0.951, 'Control', BLAUW, (0, (3.5, 2)), 1.6),
            (0.904, 'Oper', ROOD, '-', 1.6),
            (0.858, 'Ens mn', BRUIN, (0, (0.8, 1.2)), 2.6)]:
        ax.plot([0.004, xe], [yy, yy], transform=ax.transAxes, color=kleur, ls=stijl,
                lw=dikte, clip_on=False, zorder=7)
        ax.text(xt, yy, tekst, transform=ax.transAxes, fontsize=6.2,
                ha='center', va='center', zorder=7)

    xn = 0.88 if links else 0.877
    ax.text(xn, 0.951, 'De Bilt', transform=ax.transAxes, fontsize=8.3,
            fontweight='bold', ha='center', va='center', zorder=7)
    ax.text(xn, 0.872, naam, transform=ax.transAxes, fontsize=7.8,
            fontweight='bold', ha='center', va='center', zorder=7)


fig = plt.figure(figsize=(9.07, 6.46), dpi=100)
W, H = 907.0, 646.0
kolommen = [(37, 380), (491, 377)]
rijen = [183, 397, 612]

neerslag_arr = [rij(s) for s in neerslag_leden]
accum_arr = [np.cumsum(m) for m in neerslag_arr]

panelen = [
    (neerslag_arr, rij(neerslag_control), rij(neerslag_oper), rij(neerslag_ensmn),
     0, 50, 10, 'mm', 'Neerslag/6 uur', [(20, 'magenta'), (15, 'dot')], 0.55),
    (accum_arr, rij(accum_control), rij(accum_oper), rij(accum_ensmn),
     0, 175, 25, 'mm', 'Accum Neerslag', [], 0.25),
    ([rij(s) for s in wind_leden], rij(wind_control), rij(wind_oper), rij(wind_ensmn),
     0, 20, 5, 'm/s', '10m wind', [(10.8, 'dot'), (13.9, 'dot'), (17.2, 'dot')], 0.55),
    ([rij(s) for s in stoten_leden], rij(stoten_control), rij(stoten_oper), rij(stoten_ensmn),
     0, 30, 5, 'm/s', 'Windstoten', [(28.5, 'magenta'), (25, 'dot'), (20, 'dot')], 0.55),
    ([rij(s) for s in t2m_leden], rij(t2m_control), rij(t2m_oper), rij(t2m_ensmn),
     5, 40, 5, 'Celsius', 'T2m', [], 0.55),
    ([rij(s) for s in cape_leden], rij(cape_control), rij(cape_oper), rij(cape_ensmn),
     0, 4, 1, 'kJ/kg', 'Cape/Onweer', [(2, 'magenta'), (1, 'dot')], 0.55),
]

for n, p in enumerate(panelen):
    r, k = divmod(n, 2)
    x0, bw = kolommen[k]
    ax = fig.add_axes([x0 / W, 1 - rijen[r] / H, bw / W, 163 / H])
    paneel(ax, *p[:-1], links=(k == 0), kern_alpha=p[-1])

# scheidingslijnen tussen de panelen en rand
fig.add_artist(plt.Line2D([453.5 / W, 453.5 / W], [0, 1], color=RAND, lw=1.5))
for y in [214.5, 429.5]:
    fig.add_artist(plt.Line2D([0, 1], [1 - y / H, 1 - y / H], color=RAND, lw=1.5))
fig.add_artist(plt.Line2D([1 / W, 1 / W], [0, 1], color='#b8b8fa', lw=2.5))
fig.add_artist(plt.Line2D([0, 1], [2 / H, 2 / H], color='#b8b8fa', lw=2.5))

fig.savefig('out.png', dpi=100)
